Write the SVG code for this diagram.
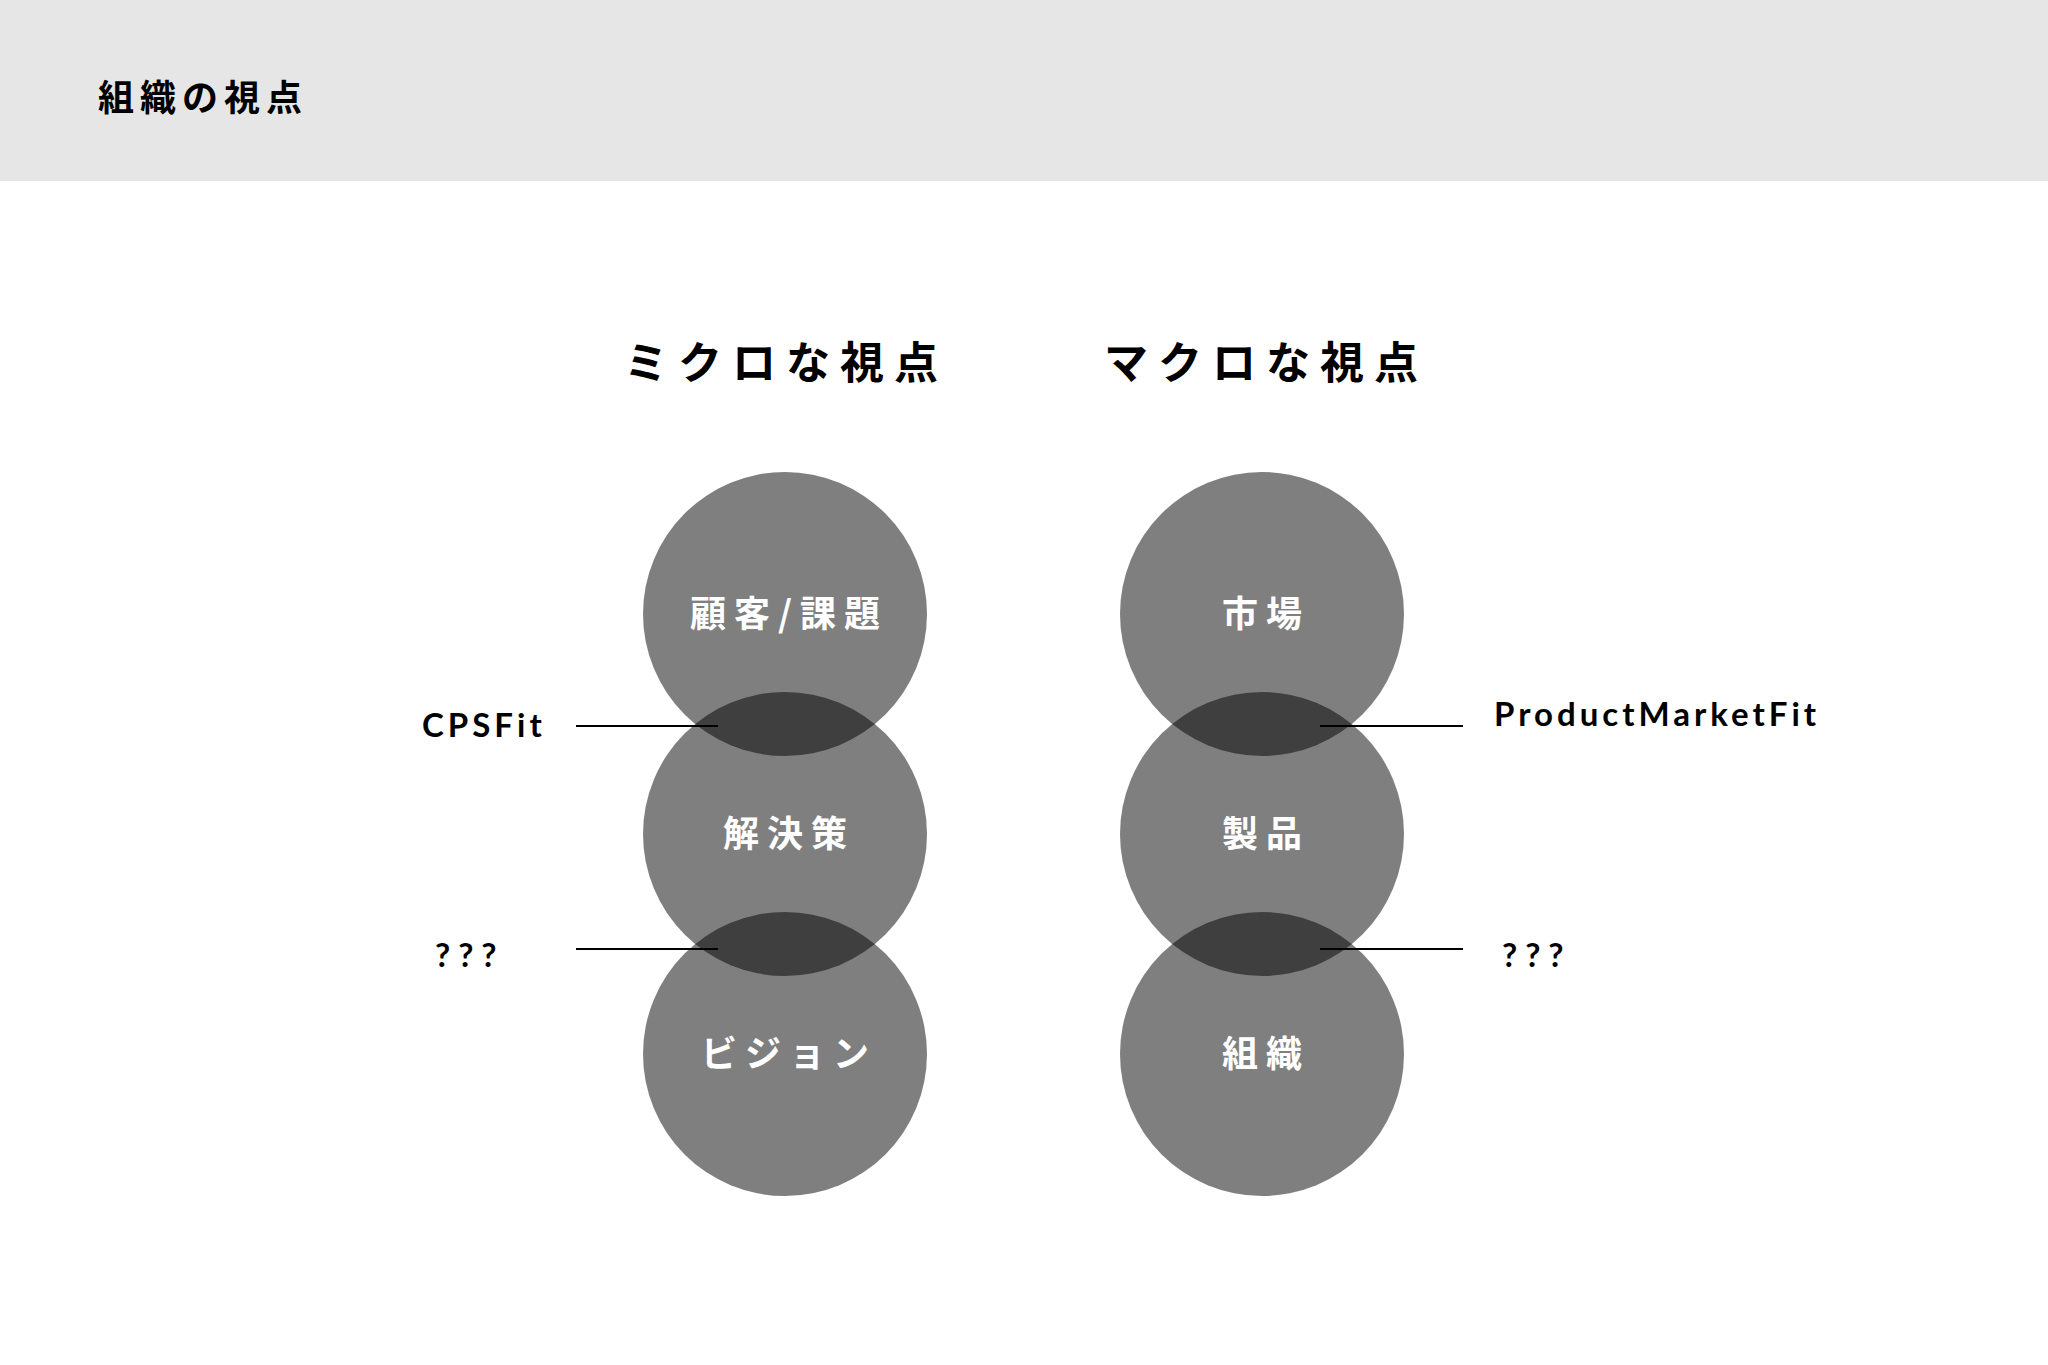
<svg xmlns="http://www.w3.org/2000/svg" width="2048" height="1365" viewBox="0 0 2048 1365">
<style>
.jp{font-family:"Noto Sans CJK JP","Noto Sans",sans-serif;font-weight:700}
.title{font-size:36px;letter-spacing:6px;fill:#000}
.head{font-size:44px;letter-spacing:10px;fill:#000}
.ctext{font-size:36px;letter-spacing:8px;fill:#fff;text-anchor:middle}
.lab{font-family:Lato,"Noto Sans",sans-serif;font-weight:700;font-size:33px;letter-spacing:4px;fill:#000}
.q{letter-spacing:8px}
.circ{fill:#000;fill-opacity:0.5}
.conn{stroke:#000;stroke-width:2}
</style>
<rect x="0" y="0" width="2048" height="1365" fill="#fff"/>
<rect x="0" y="0" width="2048" height="181" fill="#e6e6e6"/>
<text class="jp title" x="98" y="111">組織の視点</text>
<text class="jp head" x="624" y="379">ミクロな視点</text>
<text class="jp head" x="1104" y="379">マクロな視点</text>
<g id="micro-customer"><circle class="circ" cx="785" cy="614" r="142"/><text class="jp ctext" x="789" y="627">顧客/課題</text></g>
<g id="micro-solution"><circle class="circ" cx="785" cy="834" r="142"/><text class="jp ctext" x="789" y="847">解決策</text></g>
<g id="micro-vision"><circle class="circ" cx="785" cy="1054" r="142"/><text class="jp ctext" x="789" y="1067">ビジョン</text></g>
<g id="macro-market"><circle class="circ" cx="1262" cy="614" r="142"/><text class="jp ctext" x="1266" y="627">市場</text></g>
<g id="macro-product"><circle class="circ" cx="1262" cy="834" r="142"/><text class="jp ctext" x="1266" y="847">製品</text></g>
<g id="macro-org"><circle class="circ" cx="1262" cy="1054" r="142"/><text class="jp ctext" x="1266" y="1067">組織</text></g>
<g id="connectors">
<line class="conn" x1="576" y1="726" x2="718" y2="726"/>
<line class="conn" x1="576" y1="949" x2="718" y2="949"/>
<line class="conn" x1="1320" y1="726" x2="1463" y2="726"/>
<line class="conn" x1="1320" y1="949" x2="1463" y2="949"/>
</g>
<g id="label-cpsfit"><text class="lab" x="422" y="737">CPSFit</text></g>
<g id="label-q-left"><text class="lab q" x="435" y="967">???</text></g>
<g id="label-pmf"><text class="lab" x="1494" y="726">ProductMarketFit</text></g>
<g id="label-q-right"><text class="lab q" x="1502" y="967">???</text></g>
</svg>
